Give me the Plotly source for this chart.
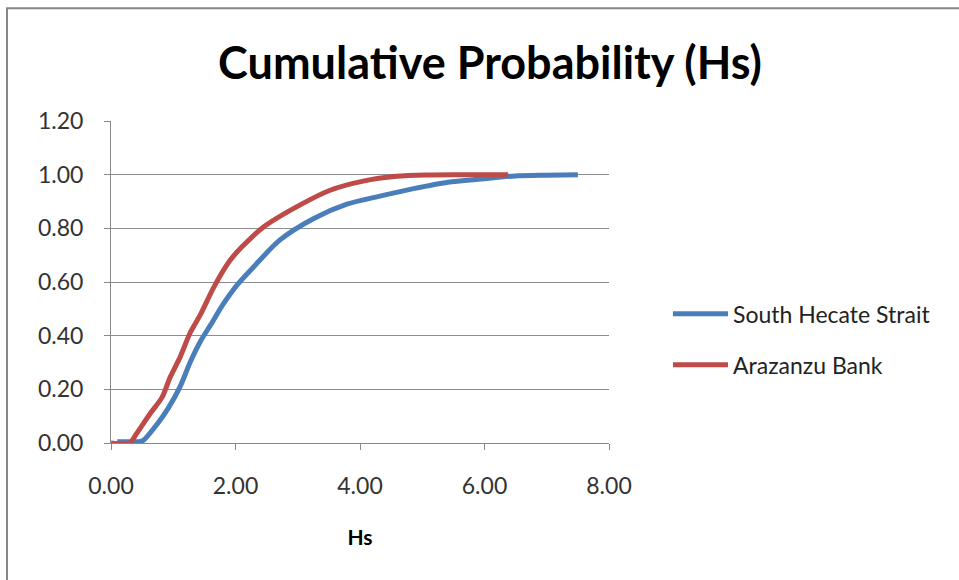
import plotly.graph_objects as go

# South Hecate Strait (blue)
shs_x = [0.10, 0.30, 0.45, 0.52, 0.74, 0.92, 1.11, 1.27, 1.44, 1.60, 1.81, 2.03, 2.29, 2.71, 3.25, 3.79, 4.32, 4.86, 5.41, 5.95, 6.49, 7.00, 7.50]
shs_y = [0.005, 0.005, 0.005, 0.01, 0.07, 0.13, 0.21, 0.30, 0.38, 0.44, 0.52, 0.59, 0.656, 0.756, 0.836, 0.890, 0.920, 0.948, 0.972, 0.984, 0.995, 0.998, 1.0]

# Arazanzu Bank (red)
ab_x = [0.00, 0.30, 0.41, 0.63, 0.82, 0.95, 1.11, 1.27, 1.44, 1.65, 1.91, 2.10, 2.45, 2.98, 3.52, 4.05, 4.59, 5.07, 5.60, 6.38]
ab_y = [0.0, 0.0, 0.035, 0.11, 0.17, 0.245, 0.32, 0.41, 0.48, 0.58, 0.68, 0.73, 0.805, 0.88, 0.942, 0.976, 0.994, 0.999, 1.0, 1.0]

x_ticks = [0, 2, 4, 6, 8]
y_ticks = [0, 0.2, 0.4, 0.6, 0.8, 1.0, 1.2]

fig = go.Figure()
fig.add_trace(go.Scatter(x=shs_x, y=shs_y, mode="lines", name="South Hecate Strait", legendgroup="a",
                         line=dict(color="#4a7ebb", width=5, shape="spline", smoothing=0.8)))
fig.add_trace(go.Scatter(x=ab_x, y=ab_y, mode="lines", name="Arazanzu Bank", legendgroup="b",
                         line=dict(color="#be4b48", width=5, shape="spline", smoothing=0.8)))

W, H = 959, 580
L, R, T, B = 111, 350, 121, 137
pw, ph = W - L - R, H - T - B

fig.update_layout(
    width=W, height=H,
    margin=dict(l=L, r=R, t=T, b=B),
    paper_bgcolor="white", plot_bgcolor="white",
    font=dict(family="Lato, Open Sans, sans-serif", color="#333333"),
    title=dict(text="<b>Cumulative Probability (Hs)</b>", x=490 / W, xanchor="center",
               y=1 - 63 / H, yanchor="middle", font=dict(size=45, color="black")),
    xaxis=dict(range=[0, 8], tickvals=x_ticks, ticktext=[f"{v:.2f}" for v in x_ticks],
               showgrid=False, zeroline=False, showline=True, linecolor="#888888", linewidth=1,
               ticks="outside", ticklen=6, tickcolor="#888888", tickfont=dict(size=23),
               ticklabelstandoff=16,
               title=dict(text="<b>Hs</b>", font=dict(size=21, color="black"), standoff=32)),
    yaxis=dict(range=[0, 1.2], tickvals=y_ticks, ticktext=[f"{v:.2f}" for v in y_ticks],
               showgrid=True, gridcolor="#8c8c8c", gridwidth=1, zeroline=False,
               showline=True, linecolor="#888888", linewidth=1,
               ticks="outside", ticklen=6, tickcolor="#888888", tickfont=dict(size=23),
               ticklabelstandoff=16),
    legend=dict(x=(668 - L) / pw, y=(442.7 - 339) / ph, xanchor="left", yanchor="middle",
                font=dict(size=23, color="#222222"), itemwidth=55, tracegroupgap=18,
                bgcolor="rgba(0,0,0,0)"),
    showlegend=True,
    shapes=[dict(type="rect", xref="paper", yref="paper",
                 x0=(7 - L) / pw, x1=(W + 20 - L) / pw,
                 y0=(442.7 - (H + 20)) / ph, y1=(442.7 - 8) / ph,
                 line=dict(color="#888888", width=2), fillcolor="rgba(0,0,0,0)", layer="below")],
)

fig.write_html("out.html")
